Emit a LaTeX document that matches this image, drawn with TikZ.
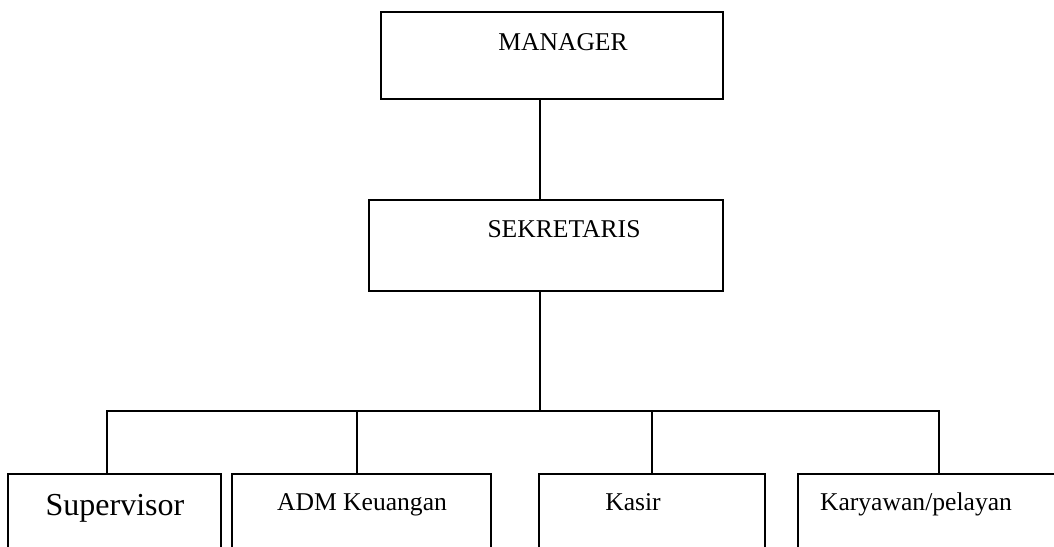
\documentclass[tikz,border=0pt]{standalone}
\usepackage{fontspec}
\setmainfont{Liberation Serif}
\usepackage{tikz}
\usetikzlibrary{calc}

\begin{document}
\begin{tikzpicture}[x=0.5pt, y=-0.5pt,
		box/.style={draw, line width=0.9pt, inner sep=0pt},
		title/.style={font=\fontsize{12.8}{14}\selectfont, anchor=base, inner sep=0pt},
		bigtitle/.style={font=\fontsize{16}{18}\selectfont, anchor=base, inner sep=0pt},
		link/.style={line width=0.9pt}]
	\useasboundingbox (0,0) rectangle (1054,546);
	\clip (0,0) rectangle (1054,546);
	
	% Top boxes
	\node[box, minimum width=171pt, minimum height=43.5pt] (mgr) at (552,55.5) {};
	\node[box, minimum width=177pt, minimum height=45.5pt] (sek) at (546,245.5) {};
	\node[title] (mgrtxt) at (563,50) {MANAGER};
	\node[title] (sektxt) at (564,237) {SEKRETARIS};
	
	% Bottom boxes (run off the page)
	\node[box, minimum width=106.5pt, minimum height=63pt] (sup) at (114.5,537) {};
	\node[box, minimum width=129.5pt, minimum height=63pt] (adm) at (361.5,537) {};
	\node[box, minimum width=113pt, minimum height=63pt] (kas) at (652,537) {};
	\node[box, minimum width=136pt, minimum height=63pt] (kar) at (934,537) {};
	\node[bigtitle] (suptxt) at (115,515) {Supervisor};
	\node[title] (admtxt) at (362,510) {ADM Keuangan};
	\node[title] (kastxt) at (633,510) {Kasir};
	\node[title] (kartxt) at (916,510) {Karyawan/pelayan};
	
	% Trunk and bus
	\coordinate (bus) at (540,411);
	\draw[link] (mgr.south -| bus) -- (sek.north -| bus);
	\draw[link] (sek.south -| bus) -- (bus);
	\coordinate (d1) at (107,411);
	\coordinate (d2) at (357,411);
	\coordinate (d3) at (652,411);
	\coordinate (d4) at (939,411);
	
	% Drops to each box
	\draw[link] (d1 |- sup.north) -- (d1) -- (d4) -- (d4 |- kar.north);
	\draw[link] (d2) -- (d2 |- adm.north);
	\draw[link] (d3) -- (d3 |- kas.north);
\end{tikzpicture}
\end{document}
